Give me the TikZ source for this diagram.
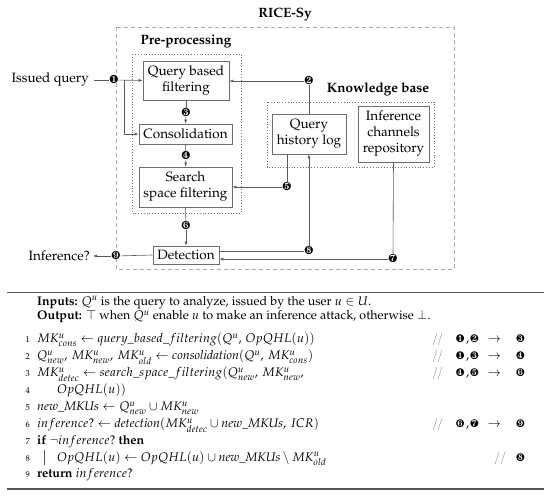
\documentclass[tikz,border=0pt]{standalone}
\usepackage[T1]{fontenc}
\usepackage{mathpazo}
\usepackage{pifont}
\usetikzlibrary{arrows.meta}
\definecolor{boxgray}{HTML}{6E6E6E}
\definecolor{linegray}{HTML}{5A5A5A}
\definecolor{frame}{HTML}{A8A8A8}
\definecolor{rulegray}{HTML}{555555}
\newcommand{\cn}[1]{{\fontsize{11}{11}\selectfont\ding{#1}}}
\newcommand{\cmtx}[3]{\texttt{//}\hspace{12pt}\cn{#1}\hspace{1.5pt},\hspace{1pt}\cn{#2}\hspace{9pt}$\rightarrow$\hspace{15pt}\cn{#3}}
\begin{document}
\begin{tikzpicture}[x=1pt,y=-1pt,
  box/.style={draw=boxgray, line width=0.7pt, inner sep=0pt, align=center, font=\fontsize{13.5}{16}\selectfont},
  lbl/.style={inner sep=0pt, font=\fontsize{13.5}{16}\selectfont},
  ttl/.style={inner sep=0pt, font=\fontsize{13.5}{16}\selectfont\bfseries},
  num/.style={inner sep=0pt, font=\fontsize{11.5}{11.5}\selectfont},
  ln/.style={draw=linegray, line width=0.6pt},
  arr/.style={ln, -{Latex[length=4pt,width=3pt]}},
  alg/.style={anchor=base west, inner sep=0pt, font=\fontsize{12.5}{15}\selectfont},
  lno/.style={anchor=base east, inner sep=0pt, font=\fontsize{8.5}{9}\selectfont},
  cmt/.style={anchor=base east, inner sep=0pt, font=\fontsize{12.5}{15}\selectfont}
]
\useasboundingbox (0,0) rectangle (550,497);
% frames
\draw[frame, dashed, dash pattern=on 4pt off 3pt, line width=0.6pt] (116,27) rectangle (454,269);
\draw[boxgray, dotted, line width=0.8pt] (132,54) rectangle (241,213);
\draw[boxgray, dotted, line width=0.8pt] (267,102) rectangle (434,167);
\node[ttl] (title) at (285,15) {RICE-Sy};
\node[ttl] (pre) at (186,42) {Pre-processing};
\node[ttl] (kb) at (378,89) {Knowledge base};
% boxes
\node[box, minimum width=86pt, minimum height=39pt] (qbf) at (186,80.5) {Query based\\filtering};
\node[box, minimum width=93pt, minimum height=20pt] (cons) at (185.5,134) {Consolidation};
\node[box, minimum width=93pt, minimum height=40pt] (ssf) at (185.5,187) {Search\\space filtering};
\node[box, minimum width=66pt, minimum height=18pt] (det) at (186,255) {Detection};
\node[box, minimum width=74pt, minimum height=40pt] (qhl) at (309,134) {Query\\history log};
\node[box, minimum width=71pt, minimum height=56pt] (icr) at (393.5,134) {Inference\\channels\\repository};
% labels
\node[lbl, anchor=east] (iq) at (89,80) {Issued query};
\node[lbl, anchor=east] (inf) at (90,256) {Inference?};
% numbers
\node[num] (n1) at (114,80) {\ding{182}};
\node[num] (n2) at (309,81) {\ding{183}};
\node[num] (n3) at (186,113) {\ding{184}};
\node[num] (n4) at (186,156) {\ding{185}};
\node[num] (n5) at (287,187) {\ding{186}};
\node[num] (n6) at (186,226) {\ding{187}};
\node[num] (n7) at (393,259) {\ding{188}};
\node[num] (n8) at (309,251) {\ding{189}};
\node[num] (n9) at (116,256) {\ding{190}};
\coordinate (j1) at (124,80);
% connectors
\draw[ln] ([xshift=5pt]iq.east) -- (n1);
\draw[arr] (n1) -- (qbf.west);
\draw[arr] (j1) |- (cons.west);
\draw[arr] (n2) -- (n2 -| qbf.east);
\draw[ln] (n2) -- (qhl.north);
\draw[ln] (qbf.south) -- (n3);
\draw[arr] (n3) -- (cons.north);
\draw[ln] (cons.south) -- (n4);
\draw[arr] (n4) -- (ssf.north);
\draw[ln] (ssf.south) -- (n6);
\draw[arr] (n6) -- (det.north);
\draw[ln] (n5 |- qhl.south) -- (n5);
\draw[arr] (n5) -- (n5 -| ssf.east);
\draw[ln] (n8 -| det.east) -- (n8);
\draw[arr] (n8) -- (qhl.south);
\draw[ln] (icr.south) -- (n7);
\draw[arr] (n7) -- (n7 -| det.east);
\draw[ln] (det.west) -- (n9);
\draw[arr] (n9) -- ([xshift=3pt]inf.east);
% algorithm
\draw[rulegray, line width=1.2pt] (7,292.5) -- (544,292.5);
\draw[rulegray, line width=2pt] (7,489) -- (544,489);
\node[alg] (inp) at (37,305.5) {\textbf{Inputs:} $Q^u$ is the query to analyze, issued by the user $u \in U$.};
\node[alg] (outp) at (37,320) {\textbf{Output:} $\top$ when $Q^u$ enable $u$ to make an inference attack, otherwise $\bot$.};
\node[lno] (k1) at (30,343) {1};
\node[alg] (a1) at (37,343) {$MK^u_{cons} \leftarrow query\_based\_filtering(Q^u,\, OpQHL(u))$};
\node[cmt] (m1) at (525,343) {\cmtx{182}{183}{184}};
\node[lno] (k2) at (30,360) {2};
\node[alg] (a2) at (37,360) {$Q^u_{new},\, MK^u_{new},\, MK^u_{old} \leftarrow \textit{consolidation}(Q^u,\, MK^u_{cons})$};
\node[cmt] (m2) at (525,360) {\cmtx{182}{184}{185}};
\node[lno] (k3) at (30,377) {3};
\node[alg] (a3) at (37,377) {$MK^u_{detec} \leftarrow search\_space\_filtering(Q^u_{new},\, MK^u_{new},$};
\node[cmt] (m3) at (525,377) {\cmtx{185}{186}{187}};
\node[lno] (k4) at (30,394) {4};
\node[alg] (a4) at (57,394) {$OpQHL(u))$};
\node[lno] (k5) at (30,411) {5};
\node[alg] (a5) at (37,411) {$\textit{new\_MKUs} \leftarrow Q^u_{new} \cup MK^u_{new}$};
\node[lno] (k6) at (30,428) {6};
\node[alg] (a6) at (37,428) {$inference? \leftarrow \textit{detection}(MK^u_{detec} \cup \textit{new\_MKUs},\, ICR)$};
\node[cmt] (m6) at (525,428) {\cmtx{187}{188}{190}};
\node[lno] (k7) at (30,444.5) {7};
\node[alg] (a7) at (37,444.5) {\textbf{if} $\neg inference?$ \textbf{then}};
\node[lno] (k8) at (30,461.5) {8};
\draw[linegray, line width=0.6pt] (44,450) -- (44,465);
\node[alg] (a8) at (57,461.5) {$OpQHL(u) \leftarrow OpQHL(u) \cup \textit{new\_MKUs} \setminus MK^u_{old}$};
\node[cmt] (m8) at (525,461.5) {\texttt{//}\hspace{10pt}\cn{189}};
\node[lno] (k9) at (30,478) {9};
\node[alg] (a9) at (37,478) {\textbf{return} $inference?$};
\end{tikzpicture}
\end{document}
